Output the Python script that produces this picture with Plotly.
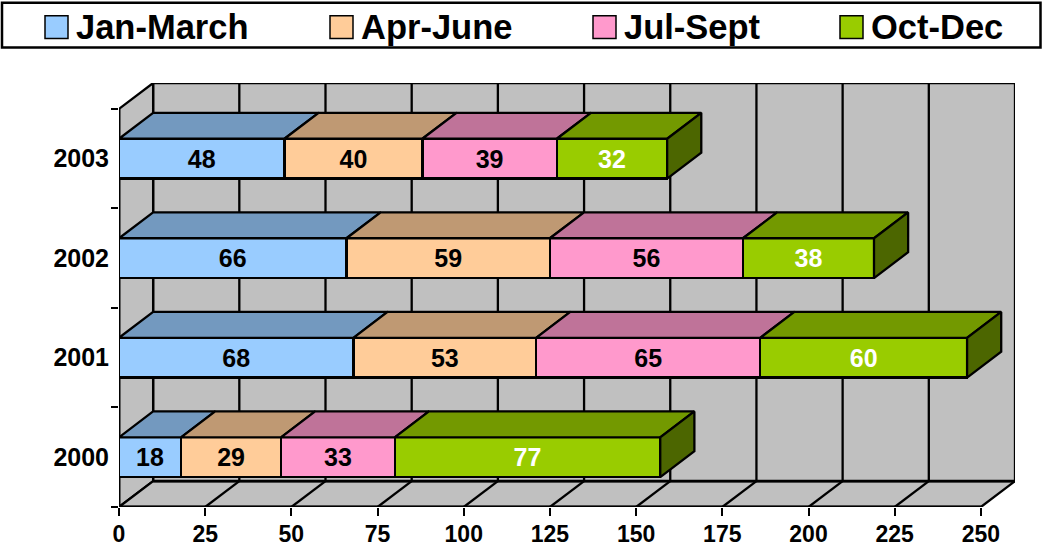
import plotly.graph_objects as go

years = ["2000", "2001", "2002", "2003"]
jan_march = [18, 68, 66, 48]
apr_june = [29, 53, 59, 40]
jul_sept = [33, 65, 56, 39]
oct_dec = [77, 60, 38, 32]
x_ticks = [0, 25, 50, 75, 100, 125, 150, 175, 200, 225, 250]

series = [
    ("Jan-March", jan_march, "#99CCFF", "#7399BF", "#000000"),
    ("Apr-June", apr_june, "#FFCC99", "#BF9973", "#000000"),
    ("Jul-Sept", jul_sept, "#FF99CC", "#BF7399", "#000000"),
    ("Oct-Dec", oct_dec, "#99CC00", "#739900", "#FFFFFF"),
]
SIDE = "#4C6600"
WALL = "#C0C0C0"
FONT = "Liberation Sans"

W, H = 1042, 546
DX, DY = 9.9, 0.26          # oblique depth in axis units
BAR_H = 0.4
XMAX = 250
YTOP = len(years)
LW = 2.3
L, R, T, B = 119, 27, 82.5, 38.5


def px(x):
    return (x - L) / (W - L - R)


def py(y):
    return (H - B - y) / (H - T - B)


shapes = []


def poly(points, fill):
    path = "M" + "L".join(f"{a},{b}" for a, b in points) + "Z"
    shapes.append(dict(type="path", path=path, xref="x", yref="y", fillcolor=fill,
                       line=dict(color="black", width=LW), layer="below"))


def line(x0, y0, x1, y1, width=LW):
    shapes.append(dict(type="line", x0=x0, y0=y0, x1=x1, y1=y1, xref="x", yref="y",
                       line=dict(color="black", width=width), layer="below"))


poly([(DX, DY), (XMAX + DX, DY), (XMAX + DX, YTOP + DY), (DX, YTOP + DY)], WALL)
poly([(0, 0), (DX, DY), (DX, YTOP + DY), (0, YTOP)], WALL)
poly([(0, 0), (XMAX, 0), (XMAX + DX, DY), (DX, DY)], WALL)
for t in x_ticks[1:-1]:
    line(t, 0, t + DX, DY)
    line(t + DX, DY, t + DX, YTOP + DY)
line(0, 0, 0, YTOP, 2.8)
line(0, 0, XMAX, 0, 2.8)
line(DX, DY, XMAX + DX, DY, 2.8)

fig = go.Figure()
ypos = [i + 0.5 for i in range(len(years))]

for name, vals, col, top, txt in series:
    fig.add_trace(go.Bar(
        name=name, y=ypos, x=vals, orientation="h", width=BAR_H,
        marker=dict(color=col, line=dict(color="black", width=LW)),
        text=[str(v) for v in vals], textposition="inside", insidetextanchor="middle",
        textangle=0, constraintext="none",
        insidetextfont=dict(family=FONT, size=25, color=txt, weight=700),
        hoverinfo="x+y",
    ))

# top faces and end faces, projected from the same values
base = [0] * len(years)
for name, vals, col, top, txt in series:
    xs, ys = [], []
    for i, v in enumerate(vals):
        y1 = ypos[i] + BAR_H / 2
        a, b = base[i], base[i] + v
        xs += [a, b, b + DX, a + DX, a, None]
        ys += [y1, y1, y1 + DY, y1 + DY, y1, None]
        base[i] = b
    fig.add_trace(go.Scatter(x=xs, y=ys, mode="lines", fill="toself", fillcolor=top,
                             line=dict(color="black", width=LW), hoverinfo="skip",
                             showlegend=False))
xs, ys = [], []
for i, b in enumerate(base):
    y0, y1 = ypos[i] - BAR_H / 2, ypos[i] + BAR_H / 2
    xs += [b, b + DX, b + DX, b, b, None]
    ys += [y0, y0 + DY, y1 + DY, y1, y0, None]
fig.add_trace(go.Scatter(x=xs, y=ys, mode="lines", fill="toself", fillcolor=SIDE,
                         line=dict(color="black", width=LW), hoverinfo="skip",
                         showlegend=False))

# legend box
shapes.append(dict(type="rect", xref="paper", yref="paper", x0=px(2), x1=px(1040.5), y0=py(2), y1=py(47),
                   fillcolor="white", line=dict(color="black", width=2.5), layer="below"))
annotations = []
legend_x = [45, 330, 593, 840]
for lx, (name, vals, col, top, txt) in zip(legend_x, series):
    shapes.append(dict(type="rect", xref="paper", yref="paper", x0=px(lx), x1=px(lx + 23),
                       y0=py(15), y1=py(38), fillcolor=col,
                       line=dict(color="black", width=1.5), layer="below"))
    annotations.append(dict(text=name, xref="paper", yref="paper", x=px(lx + 31), y=py(26.5),
                            xanchor="left", yanchor="middle", showarrow=False, xshift=0,
                            font=dict(family=FONT, size=34.5, color="black", weight=700),
                            borderpad=0, borderwidth=0))

fig.update_layout(
    width=W, height=H, autosize=False, barmode="stack", showlegend=False,
    margin=dict(l=L, r=R, t=T, b=B, pad=0),
    paper_bgcolor="white", plot_bgcolor="white",
    shapes=shapes, annotations=annotations,
    font=dict(family=FONT, size=24, color="black", weight=700),
    xaxis=dict(range=[0, XMAX + DX], tickmode="array", tickvals=x_ticks, ticks="",
               showgrid=False, zeroline=False,
               showline=False, ticklabelstandoff=11, automargin=False,
               tickfont=dict(family=FONT, size=23, color="black", weight=700),
               minor=dict(tickmode="array", tickvals=x_ticks, ticks="outside",
                          ticklen=8, tickwidth=2, tickcolor="black", showgrid=False)),
    yaxis=dict(range=[0, YTOP + DY], tickmode="array", tickvals=ypos, ticktext=years,
               ticks="", showgrid=False, zeroline=False, showline=False, ticklabelstandoff=9,
               automargin=False,
               tickfont=dict(family=FONT, size=25, color="black", weight=700),
               minor=dict(tickmode="array", tickvals=list(range(len(years) + 1)), ticks="outside",
                          ticklen=7, tickwidth=2, tickcolor="black", showgrid=False)),
)

fig.write_html("out.html", config=dict(displayModeBar=False),
               post_script="document.body.style.margin='0';")
